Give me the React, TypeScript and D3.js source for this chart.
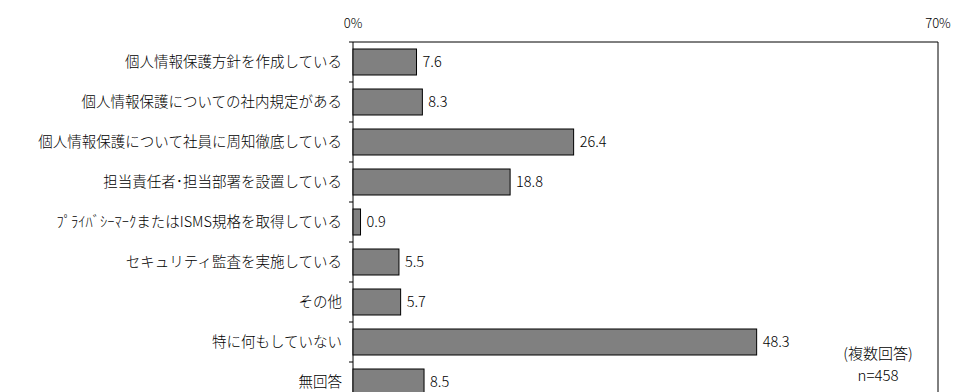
import React from "react";
import * as d3 from "d3";

const categories = [
  "個人情報保護方針を作成している",
  "個人情報保護についての社内規定がある",
  "個人情報保護について社員に周知徹底している",
  "担当責任者･担当部署を設置している",
  "ﾌﾟﾗｲﾊﾞｼｰﾏｰｸまたはISMS規格を取得している",
  "セキュリティ監査を実施している",
  "その他",
  "特に何もしていない",
  "無回答",
];
const values = [7.6, 8.3, 26.4, 18.8, 0.9, 5.5, 5.7, 48.3, 8.5];
const axisLabels = ["0%", "70%"];
const axisValues = [0, 70];
const noteLines = ["(複数回答)", "n=458"];

export default function App() {
  const W = 953, H = 392;
  const left = 353, right = 938, top = 42;
  const band = 40;
  const x = d3.scaleLinear().domain([0, 70]).range([left, right]);
  const y = d3.scaleBand<string>().domain(categories).range([top, top + band * categories.length]).paddingInner(0.35).paddingOuter(0.175);
  const bottom = top + band * categories.length;
  const cjk = "'Noto Sans CJK JP', 'Liberation Sans', sans-serif";
  return (
    <svg width={W} height={H} style={{ position: "absolute", left: 0, top: 0, background: "#fff" }}>
      {axisValues.map((v, i) => (
        <text key={i} x={x(v)} y={28} textAnchor="middle" fontSize={13} fontWeight={300} fontFamily={cjk} fill="#000">{axisLabels[i]}</text>
      ))}
      <path d={`M${left},${bottom}V${top}H${right}V${bottom}`} fill="none" stroke="#000" strokeWidth={1} />
      {d3.range(categories.length + 1).map((i) => (
        <line key={i} x1={left - 4} x2={left} y1={top + i * band} y2={top + i * band} stroke="#000" />
      ))}
      {categories.map((c, i) => (
        <g key={c}>
          <rect x={x(0)} y={y(c)} width={x(values[i]) - x(0)} height={y.bandwidth()} fill="#808080" stroke="#000" strokeWidth={1} />
          <text x={x(values[i]) + 6} y={y(c)! + y.bandwidth() / 2} dy="0.36em" fontSize={14.5} fontWeight={300} fontFamily={cjk} fill="#000">{values[i].toFixed(1)}</text>
          <text x={342} y={y(c)! + y.bandwidth() / 2} dy="0.36em" textAnchor="end" fontSize={14.5} fontWeight={300} fontFamily={cjk} fill="#000">{c}</text>
        </g>
      ))}
      {noteLines.map((t, i) => (
        <text key={i} x={878} y={359 + i * 22} textAnchor="middle" fontSize={15} fontWeight={300} fontFamily={cjk} fill="#000">{t}</text>
      ))}
    </svg>
  );
}
